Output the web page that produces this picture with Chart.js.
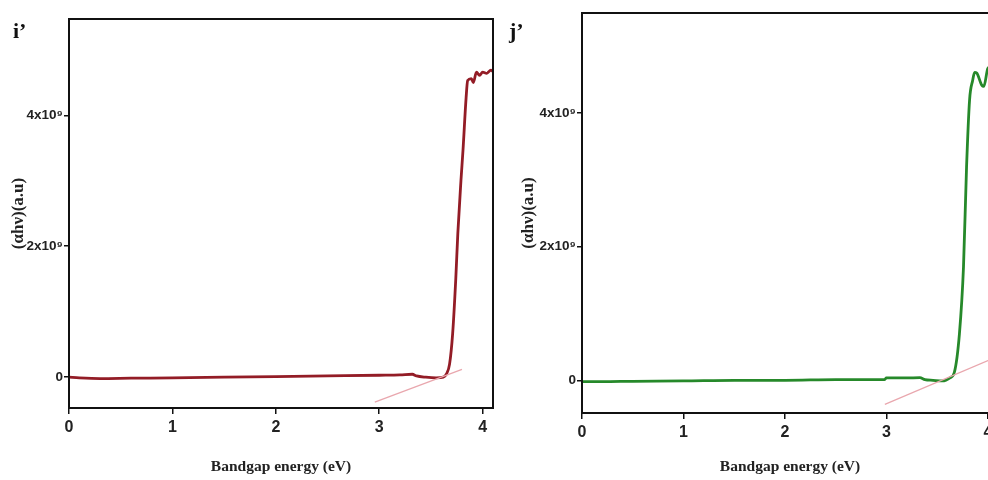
<!DOCTYPE html>
<html>
<head>
<meta charset="utf-8">
<script src="https://cdn.jsdelivr.net/npm/chart.js@4.4.0/dist/chart.umd.min.js"></script>
<style>
  html, body { margin: 0; padding: 0; background: #fff; overflow: hidden; width: 988px; height: 480px; }
  .panel { position: absolute; top: 0; }
  .tag { position: absolute; font: bold 22px "Liberation Serif", serif; color: #111; }
</style>
</head>
<body>
<div class="panel" style="left:0"><canvas id="chartI" width="500" height="480"></canvas></div>
<div class="panel" style="left:500px"><canvas id="chartJ" width="520" height="480"></canvas></div>
<div class="tag" style="left:13px;top:18px">i’</div>
<div class="tag" style="left:509px;top:18px">j’</div>

<script>
// (αhν) values are in units of 10^9 a.u.
const energyI = [0, 0.1, 0.3, 0.6, 1.0, 1.5, 2.0, 2.5, 3.0, 3.2, 3.32, 3.36, 3.45, 3.55, 3.62, 3.65, 3.68, 3.71, 3.74, 3.76, 3.79, 3.81, 3.84, 3.855, 3.89, 3.91, 3.94, 3.97, 4.0, 4.04, 4.08, 4.1];
const alphaI  = [0, -0.01, -0.02, -0.015, -0.01, 0.0, 0.01, 0.02, 0.03, 0.035, 0.045, 0.02, 0.0, -0.01, 0.0, 0.05, 0.2, 0.67, 1.5, 2.2, 3.0, 3.47, 4.27, 4.53, 4.56, 4.5, 4.66, 4.61, 4.66, 4.64, 4.69, 4.67];

const energyJ = [0, 0.2, 0.5, 1.0, 1.5, 2.0, 2.5, 2.98, 3.0, 3.2, 3.33, 3.38, 3.46, 3.55, 3.63, 3.67, 3.72, 3.76, 3.79, 3.82, 3.85, 3.87, 3.89, 3.94, 3.96, 4.0, 4.05, 4.1];
const alphaJ  = [-0.02, -0.02, -0.015, -0.01, 0.0, 0.0, 0.01, 0.01, 0.035, 0.035, 0.04, 0.01, 0.0, -0.01, 0.04, 0.12, 0.7, 1.7, 3.19, 4.2, 4.49, 4.61, 4.6, 4.42, 4.4, 4.67, 4.72, 4.74];

const tangentXI = [2.957, 3.80];
const tangentYI = [-0.38, 0.12];
const tangentXJ = [2.985, 4.1];
const tangentYJ = [-0.36, 0.36];

const xTicks = [0, 1, 2, 3, 4];
const yTicks = [0, 2, 4];
const yTickLabels = ['0', '2x10⁹', '4x10⁹'];

const frame = {
  id: 'frame',
  afterDraw(chart) {
    const { ctx, chartArea: a } = chart;
    ctx.save();
    ctx.strokeStyle = '#111';
    ctx.lineWidth = 2;
    ctx.strokeRect(a.left, a.top, a.right - a.left, a.bottom - a.top);
    ctx.restore();
  }
};

function makeChart(id, energy, alpha, color, tx, ty, g) {
  const ctx = document.getElementById(id).getContext('2d');
  return new Chart(ctx, {
    type: 'line',
    data: {
      datasets: [
        {
          data: tx.map((x, i) => ({ x, y: ty[i] })),
          borderColor: '#e9a7ae',
          borderWidth: 1.3,
          pointRadius: 0
        },
        {
          data: energy.map((x, i) => ({ x, y: alpha[i] })),
          borderColor: color,
          borderWidth: 2.8,
          pointRadius: 0,
          cubicInterpolationMode: 'monotone'
        }
      ]
    },
    options: {
      responsive: false,
      animation: false,
      layout: { padding: { top: g.top, right: g.right, left: 0, bottom: 0 } },
      plugins: { legend: { display: false }, tooltip: { enabled: false } },
      scales: {
        x: {
          type: 'linear',
          min: 0,
          max: 4.1,
          afterFit: (s) => { s.height = g.xHeight; },
          afterBuildTicks: (s) => { s.ticks = xTicks.map(v => ({ value: v })); },
          border: { display: false },
          grid: { drawOnChartArea: false, tickLength: 6, color: '#111', lineWidth: 1.5 },
          ticks: {
            color: '#222',
            padding: 4,
            font: { family: '"Liberation Sans", Arial, sans-serif', size: 16, weight: 'bold' },
            callback: (v) => String(v)
          },
          title: {
            display: true,
            text: 'Bandgap energy (eV)',
            color: '#222',
            padding: { top: 0, bottom: 4 },
            font: { family: '"Liberation Serif", serif', size: 15.5, weight: 'bold' }
          }
        },
        y: {
          type: 'linear',
          min: g.yMin,
          max: g.yMax,
          afterFit: (s) => { s.width = g.yWidth; },
          afterBuildTicks: (s) => { s.ticks = yTicks.map(v => ({ value: v })); },
          border: { display: false },
          grid: { drawOnChartArea: false, tickLength: 5, color: '#111', lineWidth: 1.5 },
          ticks: {
            color: '#222',
            padding: 1,
            font: { family: '"Liberation Sans", Arial, sans-serif', size: 13.5, weight: 'bold' },
            callback: (v) => yTickLabels[yTicks.indexOf(v)]
          },
          title: {
            display: true,
            text: '(αhν)(a.u)',
            color: '#222',
            padding: { top: g.titlePad, bottom: 0 },
            font: { family: '"Liberation Serif", serif', size: 17, weight: 'bold' }
          }
        }
      }
    },
    plugins: [frame]
  });
}

makeChart('chartI', energyI, alphaI, '#931c26', tangentXI, tangentYI,
  { top: 19, right: 7, xHeight: 72, yWidth: 69, yMin: -0.47, yMax: 5.47, titlePad: 8 });
makeChart('chartJ', energyJ, alphaJ, '#26892a', tangentXJ, tangentYJ,
  { top: 13, right: 22, xHeight: 67, yWidth: 82, yMin: -0.49, yMax: 5.5, titlePad: 18 });
</script>
</body>
</html>
